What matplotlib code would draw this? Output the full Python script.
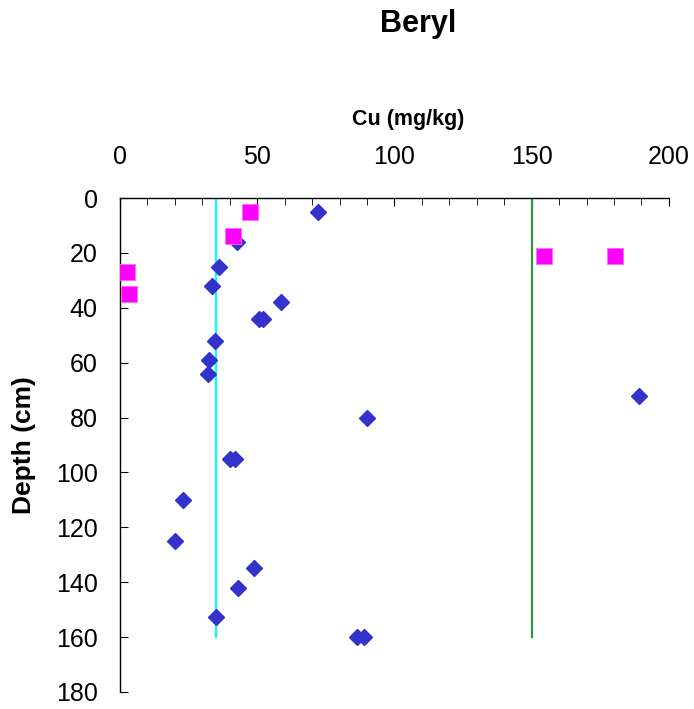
import matplotlib
matplotlib.use("Agg")
import matplotlib.pyplot as plt
from matplotlib.ticker import MultipleLocator

plt.rcParams['font.family'] = ['Liberation Sans', 'DejaVu Sans']

# Cu concentrations (mg/kg) and sampling depths (cm)
cu_a = [72, 42.5, 36, 33.5, 58.5, 50.5, 52, 34.5, 32.5, 32, 189, 90, 40, 42, 23, 20, 49, 43, 35, 86.5, 89]
depth_a = [5, 16, 25, 32, 38, 44, 44, 52, 59, 64, 72, 80, 95, 95, 110, 125, 135, 142, 152.5, 160, 160]

cu_b = [47.5, 41, 2.7, 3.3, 154.5, 180.5]
depth_b = [5, 14, 27, 35, 21, 21]

# Guideline levels (mg/kg) and depth range they span
guide_low = 35
guide_high = 150
guide_depth = [0, 160]

fig = plt.figure(figsize=(6.94, 7.09), dpi=100)
ax = fig.add_axes([0.1729, 0.024, 0.791, 0.6967])

ax.plot([guide_low, guide_low], guide_depth, color='#00FFFF', lw=1.6, zorder=2)
ax.plot([guide_high, guide_high], guide_depth, color='#339933', lw=1.6, zorder=2)

ax.plot(cu_a, depth_a, linestyle='none', marker='D', ms=8, color='#3333CC',
        mec='#3333CC', zorder=3)
ax.plot(cu_b, depth_b, linestyle='none', marker='s', ms=11, color='#FF00FF',
        mec='#FF66FF', mew=0.6, zorder=4)

ax.set_xlim(0, 200)
ax.set_ylim(180, 0)
ax.xaxis.set_major_locator(MultipleLocator(50))
ax.xaxis.set_minor_locator(MultipleLocator(10))
ax.yaxis.set_major_locator(MultipleLocator(20))

ax.xaxis.tick_top()
ax.xaxis.set_label_position('top')
ax.spines['right'].set_visible(False)
ax.spines['bottom'].set_visible(False)
for s in ('top', 'left'):
    ax.spines[s].set_linewidth(1.0)

ax.tick_params(axis='x', which='both', direction='in', top=True, bottom=False,
               labelsize=18, pad=21)
ax.tick_params(axis='x', which='major', length=6)
ax.tick_params(axis='x', which='minor', length=5)
ax.tick_params(axis='y', which='major', direction='in', length=6, labelsize=18, pad=16)

ax.set_xlabel('Cu (mg/kg)', fontsize=15.5, fontweight='bold')
ax.xaxis.set_label_coords(0.5255, 1.148)
ax.set_ylabel('Depth (cm)', fontsize=19, fontweight='bold', labelpad=14)

fig.text(418 / 694, 1 - 32 / 709, 'Beryl', fontsize=22, fontweight='bold',
         ha='center', va='baseline')

fig.savefig('out.png', dpi=100)
